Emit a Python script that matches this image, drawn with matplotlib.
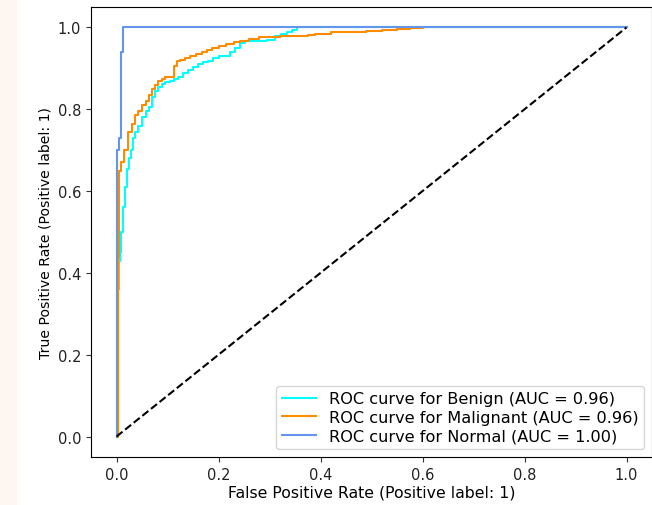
import matplotlib.pyplot as plt
from matplotlib.patches import Rectangle

plt.rcParams['font.family'] = ['DejaVu Sans']

# ROC points (fpr, tpr)
benign_fpr = [0, 0.002, 0.004, 0.006, 0.008, 0.012, 0.016, 0.020, 0.024, 0.028,
              0.033, 0.037, 0.043, 0.050, 0.057, 0.063, 0.070, 0.076, 0.082, 0.090,
              0.096, 0.105, 0.112, 0.120, 0.130, 0.140, 0.150, 0.160, 0.170, 0.180,
              0.190, 0.200, 0.212, 0.222, 0.233, 0.243, 0.252, 0.270, 0.295, 0.310,
              0.322, 0.334, 0.345, 0.354, 1.0]
benign_tpr = [0, 0.36, 0.43, 0.45, 0.50, 0.56, 0.61, 0.655, 0.68, 0.70,
              0.73, 0.745, 0.76, 0.78, 0.795, 0.806, 0.83, 0.845, 0.855, 0.862,
              0.867, 0.87, 0.875, 0.88, 0.888, 0.895, 0.903, 0.91, 0.915, 0.918,
              0.925, 0.93, 0.93, 0.94, 0.95, 0.962, 0.966, 0.968, 0.97, 0.978,
              0.985, 0.99, 0.995, 1.0, 1.0]

malignant_fpr = [0, 0.002, 0.004, 0.008, 0.014, 0.022, 0.030, 0.037, 0.043, 0.050,
                 0.057, 0.063, 0.070, 0.076, 0.082, 0.090, 0.096, 0.104, 0.112, 0.118,
                 0.125, 0.135, 0.145, 0.155, 0.168, 0.178, 0.188, 0.200, 0.215, 0.230,
                 0.243, 0.260, 0.280, 0.320, 0.360, 0.375, 0.390, 0.420, 0.460, 0.490,
                 0.520, 0.550, 0.575, 0.600, 1.0]
malignant_tpr = [0, 0.44, 0.65, 0.67, 0.70, 0.745, 0.765, 0.785, 0.795, 0.81,
                 0.82, 0.835, 0.85, 0.86, 0.87, 0.875, 0.878, 0.88, 0.905, 0.917,
                 0.92, 0.925, 0.93, 0.935, 0.94, 0.945, 0.95, 0.955, 0.96, 0.965,
                 0.968, 0.972, 0.977, 0.98, 0.98, 0.982, 0.985, 0.988, 0.99, 0.992,
                 0.995, 0.997, 0.998, 1.0, 1.0]

normal_fpr = [0, 0, 0.004, 0.008, 0.012, 1.0]
normal_tpr = [0, 0.70, 0.73, 0.94, 1.0, 1.0]

classes = ['Benign', 'Malignant', 'Normal']
aucs = [0.96, 0.96, 1.00]
colors = ['aqua', 'darkorange', 'cornflowerblue']

fig = plt.figure(figsize=(6.52, 5.06), dpi=100)
fig.patches.append(Rectangle((0, 0), 17 / 652, 1, transform=fig.transFigure,
                             facecolor='#fdf6f1', edgecolor='none', zorder=0))
ax = fig.add_axes([91 / 652, 48 / 506, 561 / 652, 450 / 506])

curves = [(benign_fpr, benign_tpr), (malignant_fpr, malignant_tpr), (normal_fpr, normal_tpr)]
for (fpr, tpr), name, auc, c in zip(curves, classes, aucs, colors):
    ax.plot(fpr, tpr, color=c, lw=1.5, drawstyle='steps-post',
            label='ROC curve for %s (AUC = %.2f)' % (name, auc))

ax.plot([0, 1], [0, 1], 'k--', lw=1.5)
ax.set_xlim(-0.05, 1.05)
ax.set_ylim(-0.05, 1.05)
ax.tick_params(labelsize=10.5, colors='#333333', labelcolor='#222222')
ax.set_xlabel('False Positive Rate (Positive label: 1)', fontsize=11.3, labelpad=2)
ax.set_ylabel('True Positive Rate (Positive label: 1)', fontsize=10.1)
ax.legend(loc='lower right', fontsize=11.6, labelspacing=0.22, borderpad=0.35,
          handlelength=2.1)

fig.savefig('out.png', dpi=100)
